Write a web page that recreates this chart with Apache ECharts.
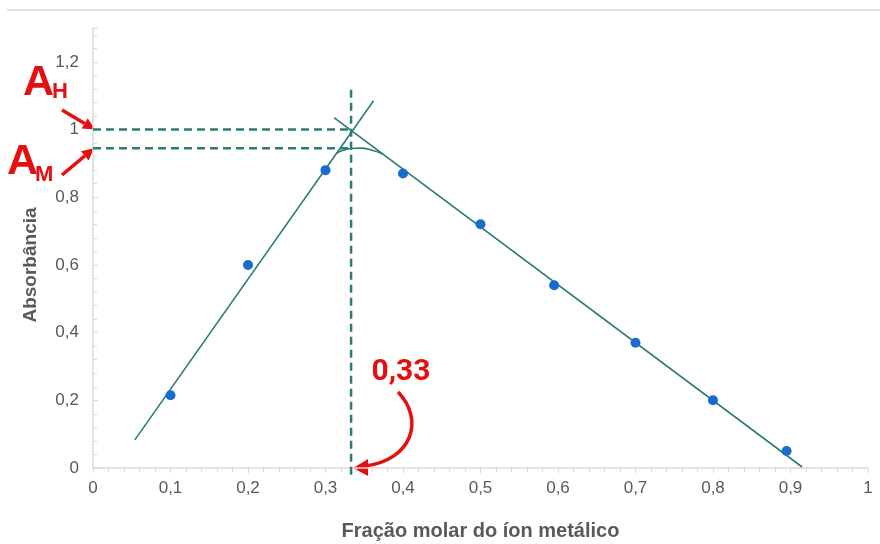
<!DOCTYPE html>
<html>
<head>
<meta charset="utf-8">
<script src="https://cdn.jsdelivr.net/npm/echarts@6/dist/echarts.min.js"></script>
<style>
  html, body { margin: 0; padding: 0; background: #fff; }
  #chart { width: 880px; height: 544px; }
</style>
</head>
<body>
<div id="chart"></div>
<script>
// pontos medidos (fração molar x absorbância)
const fracao = [0.1, 0.2, 0.3, 0.4, 0.5, 0.595, 0.7, 0.8, 0.895];
const absorbancia = [0.215, 0.60, 0.88, 0.87, 0.72, 0.54, 0.37, 0.20, 0.05];

// retas de ajuste e a curva arredondada no topo
const retaSubida = [[0.054, 0.083], [0.362, 1.085]];
const retaDescida = [[0.311, 1.035], [0.915, 0.003]];
const curvaTopo = [[0.314, 0.930], [0.322, 0.938], [0.333, 0.944], [0.345, 0.945], [0.360, 0.939], [0.374, 0.928]];

// linhas de referência
const xEstequiometrico = 0.333;
const absH = 1.0;
const absM = 0.945;
const topoVertical = 1.12;

const TEAL = '#2b7b76';
const RED = '#e3100f';
const GRAY = '#d9d9d9';
const FONT = "'Liberation Sans', Arial, sans-serif";

const fmt = v => String(+v.toFixed(2)).replace('.', ',');

const chart = echarts.init(document.getElementById('chart'));

const option = {
  animation: false,
  grid: { left: 93, right: 12, top: 28, bottom: 76, outerBoundsMode: 'none' },
  xAxis: {
    type: 'value',
    min: 0, max: 1, interval: 0.1,
    name: 'Fração molar do íon metálico',
    nameLocation: 'middle',
    nameGap: 53,
    nameTextStyle: { color: '#595959', fontSize: 20, fontWeight: 'bold', fontFamily: FONT },
    axisLine: { show: true, lineStyle: { color: GRAY, width: 1.5 } },
    axisTick: { show: true, length: 5, lineStyle: { color: GRAY } },
    minorTick: { show: true, splitNumber: 5, length: 4, lineStyle: { color: GRAY } },
    splitLine: { show: false },
    axisLabel: { color: '#595959', fontSize: 17, fontFamily: FONT, margin: 12, formatter: fmt }
  },
  yAxis: {
    type: 'value',
    min: 0, max: 1.3, interval: 0.2,
    axisLine: { show: true, lineStyle: { color: GRAY, width: 1.5 } },
    axisTick: { show: true, inside: true, length: 5, lineStyle: { color: GRAY } },
    minorTick: { show: true, splitNumber: 5, length: 4, lineStyle: { color: GRAY } },
    splitLine: { show: false },
    axisLabel: { color: '#595959', fontSize: 17, fontFamily: FONT, margin: 14, formatter: fmt, showMaxLabel: false }
  },
  series: [
    {
      type: 'line', name: 'AH', data: [[0, absH], [xEstequiometrico, absH]],
      showSymbol: false, clip: false,
      lineStyle: { color: TEAL, width: 2.5, type: [8, 5] }
    },
    {
      type: 'line', name: 'AM', data: [[0, absM], [xEstequiometrico, absM]],
      showSymbol: false, clip: false,
      lineStyle: { color: TEAL, width: 2.5, type: [8, 5] }
    },
    {
      type: 'line', name: 'x', data: [[xEstequiometrico, -0.02], [xEstequiometrico, topoVertical]],
      showSymbol: false, clip: false,
      lineStyle: { color: TEAL, width: 2.5, type: [8, 5] }
    },
    {
      type: 'line', name: 'subida', data: retaSubida,
      showSymbol: false, clip: false,
      lineStyle: { color: TEAL, width: 1.6 }
    },
    {
      type: 'line', name: 'descida', data: retaDescida,
      showSymbol: false, clip: false,
      lineStyle: { color: TEAL, width: 1.6 }
    },
    {
      type: 'line', name: 'curva', data: curvaTopo, smooth: true,
      showSymbol: false, clip: false,
      lineStyle: { color: TEAL, width: 1.6 }
    },
    {
      type: 'scatter', name: 'medidas',
      data: fracao.map((x, i) => [x, absorbancia[i]]),
      symbolSize: 10, z: 5,
      itemStyle: { color: '#1a6ad0', opacity: 1 }
    }
  ]
};

chart.setOption(option);

// seta reta com ponta triangular
function seta(x1, y1, x2, y2, comp, larg) {
  const ang = Math.atan2(y2 - y1, x2 - x1);
  const bx = x2 - comp * Math.cos(ang), by = y2 - comp * Math.sin(ang);
  const nx = -Math.sin(ang) * larg, ny = Math.cos(ang) * larg;
  return [
    { type: 'line', shape: { x1: x1, y1: y1, x2: bx, y2: by }, style: { stroke: RED, lineWidth: 3.5 } },
    { type: 'polygon', shape: { points: [[x2, y2], [bx + nx, by + ny], [bx - nx, by - ny]] }, style: { fill: RED } }
  ];
}

const pH = chart.convertToPixel({ gridIndex: 0 }, [0, absH]);
const pM = chart.convertToPixel({ gridIndex: 0 }, [0, absM]);
const pX = chart.convertToPixel({ gridIndex: 0 }, [xEstequiometrico, 0]);

const grafico = [
  { type: 'line', shape: { x1: 7, y1: 10, x2: 880, y2: 10 }, style: { stroke: GRAY, lineWidth: 1.5 } },
  { type: 'text', x: 31, y: 265, rotation: Math.PI / 2,
    style: { text: 'Absorbância', fill: '#595959', font: 'bold 19px ' + FONT, align: 'center', verticalAlign: 'middle' } },
  // A_H
  { type: 'text', x: 23, y: 83, style: { text: 'A', fill: RED, font: 'bold 43px ' + FONT, verticalAlign: 'middle' } },
  { type: 'text', x: 52, y: 92, style: { text: 'H', fill: RED, font: 'bold 22px ' + FONT, verticalAlign: 'middle' } },
  // A_M
  { type: 'text', x: 7, y: 162, style: { text: 'A', fill: RED, font: 'bold 43px ' + FONT, verticalAlign: 'middle' } },
  { type: 'text', x: 35, y: 175, style: { text: 'M', fill: RED, font: 'bold 22px ' + FONT, verticalAlign: 'middle' } },
  // 0,33
  { type: 'text', x: 401, y: 372, style: { text: fmt(0.33), fill: RED, font: 'bold 30px Roboto, ' + FONT, align: 'center', verticalAlign: 'middle' } },
  { type: 'bezierCurve',
    shape: { x1: 398, y1: 392, cpx1: 425, cpy1: 420, cpx2: 412, cpy2: 460, x2: pX[0] + 14, y2: pX[1] - 2 },
    style: { stroke: RED, lineWidth: 3.5, fill: null } },
  { type: 'polygon', shape: { points: [[pX[0] + 2, pX[1]], [pX[0] + 17, pX[1] - 9], [pX[0] + 17, pX[1] + 8]] }, style: { fill: RED } }
]
  .concat(seta(62, 110, pH[0] + 2, pH[1], 12, 6))
  .concat(seta(62, 175, pM[0] + 1, pM[1], 12, 6));

chart.setOption({ graphic: grafico });
</script>
</body>
</html>
